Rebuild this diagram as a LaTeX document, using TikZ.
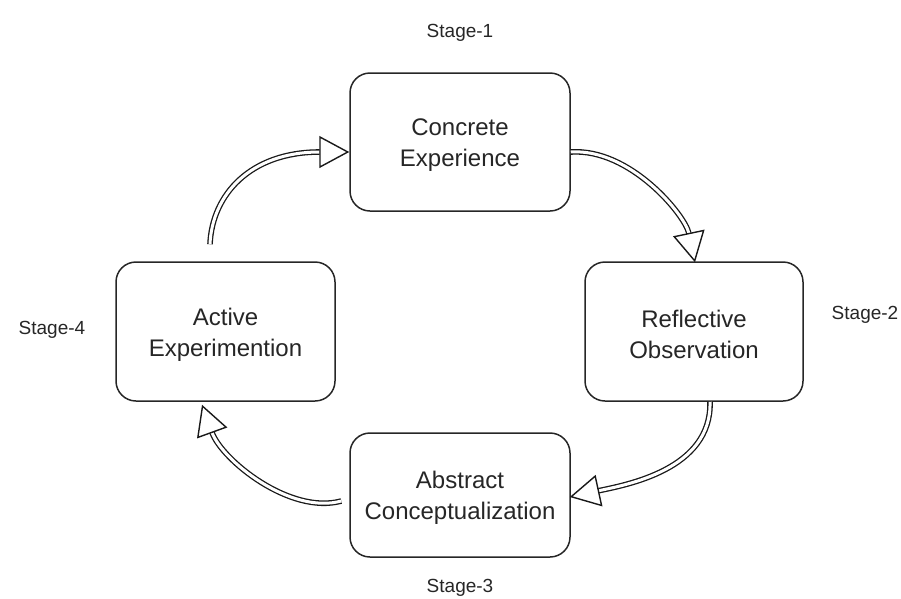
\documentclass[tikz,border=0pt]{standalone}
\usepackage{fontspec}
\setmainfont{Liberation Sans}
\usetikzlibrary{arrows.meta,calc}
\begin{document}
\begin{tikzpicture}[x=1pt,y=-1pt,
  stagebox/.style={draw=black!85,line width=1.5pt,rounded corners=20pt,inner sep=0pt},
  boxtext/.style={align=center,font=\fontsize{24}{31}\selectfont,text=black!85,inner sep=0pt,yshift=-3pt},
  stagelabel/.style={font=\fontsize{19}{22}\selectfont,text=black!85,inner sep=0pt},
  flow/.style={draw=black!90,line width=1.3pt,double=white,double distance=3pt,
    -{Triangle[open,length=30pt,width=32pt,line width=1.4pt]}}]
\useasboundingbox (0,0) rectangle (901,598);
\node[stagebox,minimum width=220pt,minimum height=138pt,
  label={[boxtext]center:Concrete\\Experience}] (ce) at (460,142) {};
\node[stagebox,minimum width=218pt,minimum height=139pt,
  label={[boxtext]center:Reflective\\Observation}] (ro) at (694,331.5) {};
\node[stagebox,minimum width=220pt,minimum height=124pt,
  label={[boxtext]center:Abstract\\Conceptualization}] (ac) at (460,495) {};
\node[stagebox,minimum width=219pt,minimum height=139pt,
  label={[boxtext]center:Active\\Experimention}] (ae) at (225.5,331.5) {};
\node[stagelabel] (s1) at (460,33) {Stage-1};
\node[stagelabel] (s2) at (865,315) {Stage-2};
\node[stagelabel] (s3) at (460,588) {Stage-3};
\node[stagelabel] (s4) at (52,330) {Stage-4};
% arrow end points
\coordinate (a1s) at ($(ae.north)+(-15.5,-17)$);
\coordinate (a1e) at ($(ce.west)+(0,10)$);
\coordinate (a2s) at ($(ce.east)+(0,10)$);
\coordinate (a2e) at ($(ro.north)+(1,1)$);
\coordinate (a3s) at ($(ro.south)+(16,0)$);
\coordinate (a3e) at ($(ac.east)+(-1,2)$);
\coordinate (a4s) at ($(ac.west)+(-8,6)$);
\coordinate (a4e) at ($(ae.south)+(-23.5,3)$);
\draw[flow] (a1s) .. controls (212,195) and (250,152) .. (a1e);
\draw[flow] (a2s) .. controls (630,148) and (685,215) .. (a2e);
\draw[flow] (a3s) .. controls (712,470) and (625,485) .. (a3e);
\draw[flow] (a4s) .. controls (290,515) and (222,460) .. (a4e);
\end{tikzpicture}
\end{document}
